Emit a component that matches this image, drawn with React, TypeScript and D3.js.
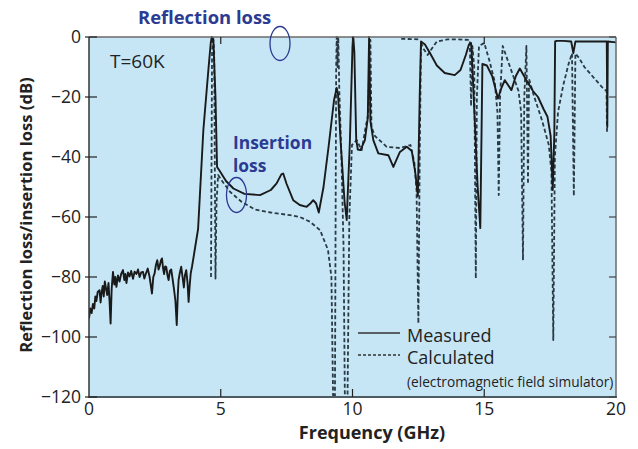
import { useEffect, useRef } from "react";
import * as d3 from "d3";

type Pt = [number, number];

// frequency (GHz), loss (dB)
const measured: Pt[] = [
  [0.0, -93.8], [0.05, -90.5], [0.1, -92], [0.15, -89], [0.2, -90.5], [0.24, -86.5], [0.28, -88],
  [0.33, -85], [0.4, -84.4], [0.44, -88.5], [0.47, -85.8], [0.52, -83], [0.56, -86.5], [0.6, -81.5],
  [0.65, -84], [0.69, -86], [0.74, -82], [0.78, -88], [0.82, -95.5], [0.86, -84], [0.91, -78.3],
  [0.96, -82.5], [1.0, -80], [1.04, -83.3], [1.1, -79.5], [1.16, -81.5], [1.22, -79], [1.29, -77.7],
  [1.34, -81], [1.38, -79], [1.42, -82], [1.48, -78.5], [1.54, -79.8], [1.6, -78], [1.67, -80.6],
  [1.73, -78.2], [1.8, -79], [1.86, -77.5], [1.92, -80], [1.98, -78.5], [2.05, -78.3], [2.1, -80.5],
  [2.17, -78.6], [2.23, -77.2], [2.3, -80], [2.35, -83], [2.39, -85.5], [2.44, -80], [2.49, -78.8],
  [2.54, -76], [2.59, -74.4], [2.64, -77.5], [2.68, -76.4], [2.73, -74.5], [2.77, -73.8], [2.81, -77],
  [2.85, -79], [2.89, -76.5], [2.93, -76.6], [2.98, -79.5], [3.02, -81], [3.07, -78], [3.12, -77.5],
  [3.17, -80.5], [3.23, -84.4], [3.28, -88], [3.33, -96], [3.37, -86], [3.4, -81], [3.45, -78.5],
  [3.5, -76.6], [3.55, -80], [3.6, -83.5], [3.64, -79.5], [3.69, -77.7], [3.74, -82], [3.78, -88.3],
  [3.82, -83], [3.86, -78.8], [3.91, -76.5], [3.95, -74.4], [4.03, -70], [4.14, -64], [4.34, -31],
  [4.53, -11], [4.62, -2], [4.66, 0], [4.72, -1], [4.8, -20], [4.86, -43.3], [4.95, -44.5], [5.2, -48],
  [5.48, -50.5], [5.9, -52.3], [6.49, -52.7], [6.9, -51], [7.12, -48.8], [7.3, -45.8], [7.37, -45.5],
  [7.5, -49], [7.75, -54.4], [8.0, -56], [8.26, -56.6], [8.4, -55.5], [8.51, -54.4], [8.62, -55.5],
  [8.72, -58.5], [8.9, -50], [9.1, -36], [9.3, -21], [9.4, -17], [9.45, -19], [9.55, -35], [9.7, -55],
  [9.78, -61], [9.9, -35], [10.0, -3], [10.03, 0], [10.07, -5], [10.14, -34], [10.2, -37.5],
  [10.3, -37.7], [10.47, -34.4], [10.58, -27], [10.63, 0], [10.68, -28], [10.79, -34.4], [10.98, -38.8],
  [11.36, -39.4], [11.55, -43.3], [11.8, -38.3], [12.06, -36.6], [12.25, -38], [12.38, -45],
  [12.48, -53], [12.55, -20], [12.6, -1.5], [12.75, -2.5], [12.95, -5.5], [13.2, -9.5], [13.5, -12],
  [13.88, -12.7], [14.1, -11], [14.3, -6], [14.42, -2.5], [14.5, -2], [14.55, -10], [14.65, -30],
  [14.75, -50], [14.85, -63.7], [14.9, -30], [14.93, -9], [15.1, -9.5], [15.3, -13], [15.52, -20.5],
  [15.65, -17], [15.78, -14.4], [16.03, -17.7], [16.2, -13], [16.35, -10.5], [16.6, -14.4],
  [16.85, -18], [17.04, -20], [17.25, -24], [17.4, -26.6], [17.52, -33], [17.6, -51], [17.66, -32],
  [17.69, -1.5], [17.75, -1.3], [18.0, -1.3], [18.3, -1.5], [18.38, -5.4], [18.46, -1.5], [18.8, -1.5],
  [19.2, -1.5], [19.6, -1.5], [19.65, -1.5], [19.67, -30], [19.69, -1.5], [20.0, -1.8],
];

const calculated: Pt[] = [
  [4.63, -80], [4.67, -5], [4.71, 0], [4.75, -5], [4.8, -80.5], [4.84, -55], [4.9, -46], [5.05, -48],
  [5.35, -51.6], [5.8, -55], [6.3, -57.5], [6.9, -58.5], [7.63, -59.4], [8.0, -60], [8.39, -61.6],
  [8.77, -64.4], [9.07, -71], [9.2, -80], [9.28, -130], [9.33, -130], [9.38, -10], [9.4, 0],
  [9.43, -10], [9.46, 0], [9.5, -18], [9.58, -40], [9.66, -70], [9.72, -130], [9.8, -130], [9.88, -60],
  [9.98, -36], [10.16, -34.4], [10.35, -37.7], [10.5, -30], [10.6, -25.5], [10.65, -1], [10.68, -1],
  [10.72, -30], [10.85, -33], [11.3, -36.6], [11.8, -37], [12.2, -36], [12.35, -42], [12.43, -51],
  [12.5, -95.5], [12.55, -40], [12.6, -2], [12.7, -4], [12.85, -6], [13.0, -4], [13.2, -1.5],
  [13.6, -0.8], [14.0, -0.8], [14.45, -1], [14.5, -23], [14.55, -3], [14.62, -10], [14.68, -80.5],
  [14.72, -20], [14.8, -3], [15.0, -2], [15.2, -8], [15.4, -15], [15.5, -25], [15.55, -52.7],
  [15.6, -20], [15.7, -3], [15.9, -8], [16.1, -13], [16.3, -18], [16.4, -25], [16.47, -74.4],
  [16.52, -20], [16.6, -3], [16.66, -49], [16.7, -14], [16.9, -20], [17.2, -28], [17.45, -36],
  [17.55, -45], [17.62, -101], [17.68, -40], [17.8, -25], [18.0, -16], [18.2, -9], [18.33, -5.5],
  [18.4, -53], [18.46, -5.5], [18.6, -7], [18.8, -10], [19.2, -14], [19.5, -17], [19.64, -18],
  [19.66, -32],
];

const calculatedTop: Pt[] = [[11.85, -0.6], [12.55, -0.8]];

const xTicks = [0, 5, 10, 15, 20];
const yTicks = [0, -20, -40, -60, -80, -100, -120];

export default function App() {
  const svgRef = useRef<SVGSVGElement>(null);

  useEffect(() => {
    if (!svgRef.current) return;
    const svg = d3.select(svgRef.current);
    svg.selectAll("*").remove();

    const left = 89, right = 616, top = 37, bottom = 397;
    const x = d3.scaleLinear().domain([0, 20]).range([left, right]);
    const y = d3.scaleLinear().domain([-120, 0]).range([bottom, top]);
    const font = "'Open Sans', 'Noto Sans', sans-serif";
    const blue = "#2b3a92";

    svg.append("defs").append("clipPath").attr("id", "plot")
      .append("rect").attr("x", left).attr("y", top - 1)
      .attr("width", right - left).attr("height", bottom - top + 1);

    svg.append("rect").attr("x", left).attr("y", top)
      .attr("width", right - left).attr("height", bottom - top)
      .attr("fill", "#c6e6f6");

    const line = d3.line<Pt>().x((d) => x(d[0])).y((d) => y(d[1]));
    const g = svg.append("g").attr("clip-path", "url(#plot)");

    g.append("path").datum(calculated).attr("d", line)
      .attr("fill", "none").attr("stroke", "#2a3a44").attr("stroke-width", 1.8)
      .attr("stroke-dasharray", "4 2.5").attr("stroke-linejoin", "round");
    g.append("path").datum(calculatedTop).attr("d", line)
      .attr("fill", "none").attr("stroke", "#2a3a44").attr("stroke-width", 1.8)
      .attr("stroke-dasharray", "4 2.5");
    g.append("path").datum(measured).attr("d", line)
      .attr("fill", "none").attr("stroke", "#1a1a1a").attr("stroke-width", 1.9)
      .attr("stroke-linejoin", "round");

    // frame
    svg.append("line").attr("x1", left).attr("x2", right).attr("y1", top).attr("y2", top)
      .attr("stroke", "#6a6a6a").attr("stroke-width", 1.5);
    svg.append("line").attr("x1", right).attr("x2", right).attr("y1", top).attr("y2", bottom)
      .attr("stroke", "#6a6a6a").attr("stroke-width", 1.5);
    svg.append("line").attr("x1", left).attr("x2", left).attr("y1", top).attr("y2", bottom + 1)
      .attr("stroke", "#333").attr("stroke-width", 1.5);
    svg.append("line").attr("x1", left).attr("x2", right + 1).attr("y1", bottom).attr("y2", bottom)
      .attr("stroke", "#4f5b63").attr("stroke-width", 2.2);

    // ticks
    svg.selectAll(".ytick").data(yTicks).enter().append("line")
      .attr("x1", left - 4).attr("x2", left + 8)
      .attr("y1", (d) => y(d)).attr("y2", (d) => y(d))
      .attr("stroke", "#222").attr("stroke-width", 1.2);
    svg.selectAll(".rtick").data(yTicks).enter().append("line")
      .attr("x1", right - 7).attr("x2", right)
      .attr("y1", (d) => y(d)).attr("y2", (d) => y(d))
      .attr("stroke", "#444").attr("stroke-width", 1.2);
    svg.selectAll(".xtick").data(xTicks.slice(1, 4)).enter().append("line")
      .attr("x1", (d) => x(d)).attr("x2", (d) => x(d))
      .attr("y1", bottom - 8).attr("y2", bottom)
      .attr("stroke", "#222").attr("stroke-width", 1.2);
    svg.selectAll(".ttick").data(xTicks.slice(1, 4)).enter().append("line")
      .attr("x1", (d) => x(d)).attr("x2", (d) => x(d))
      .attr("y1", top).attr("y2", top + 7)
      .attr("stroke", "#222").attr("stroke-width", 1.2);

    svg.selectAll(".ylab").data(yTicks).enter().append("text")
      .attr("x", left - 8).attr("y", (d) => y(d) + 6)
      .attr("text-anchor", "end").attr("font-family", font).attr("font-size", 17.5)
      .attr("fill", "#222")
      .text((d) => (d < 0 ? "\u2212" + Math.abs(d) : String(d)));
    svg.selectAll(".xlab").data(xTicks).enter().append("text")
      .attr("x", (d) => x(d)).attr("y", 415)
      .attr("text-anchor", "middle").attr("font-family", font).attr("font-size", 17.5)
      .attr("fill", "#222").text((d) => String(d));

    svg.append("text").attr("x", 372).attr("y", 439).attr("text-anchor", "middle")
      .attr("font-family", font).attr("font-size", 18).attr("font-weight", "bold")
      .attr("fill", "#222").text("Frequency (GHz)");
    svg.append("text").attr("transform", "translate(32,215) rotate(-90)")
      .attr("text-anchor", "middle").attr("font-family", font).attr("font-size", 16.6)
      .attr("font-weight", "bold").attr("fill", "#222")
      .text("Reflection loss/insertion loss (dB)");

    // annotations
    svg.append("text").attr("x", 110).attr("y", 68).attr("font-family", font)
      .attr("font-size", 19).attr("fill", "#222").text("T=60K");
    svg.append("text").attr("x", 138).attr("y", 24).attr("font-family", font)
      .attr("font-size", 18.4).attr("font-weight", "bold").attr("fill", blue)
      .text("Reflection loss");
    svg.append("ellipse").attr("cx", 280).attr("cy", 43.5).attr("rx", 10).attr("ry", 17)
      .attr("fill", "none").attr("stroke", blue).attr("stroke-width", 1.3);
    svg.append("text").attr("x", 233).attr("y", 149).attr("font-family", font)
      .attr("font-size", 17.4).attr("font-weight", "bold").attr("fill", blue).text("Insertion");
    svg.append("text").attr("x", 233).attr("y", 172).attr("font-family", font)
      .attr("font-size", 17.4).attr("font-weight", "bold").attr("fill", blue).text("loss");
    svg.append("ellipse").attr("cx", 236.5).attr("cy", 195).attr("rx", 10).attr("ry", 17.5)
      .attr("fill", "none").attr("stroke", blue).attr("stroke-width", 1.3);

    // legend
    svg.append("line").attr("x1", 358).attr("x2", 400).attr("y1", 333).attr("y2", 333)
      .attr("stroke", "#333").attr("stroke-width", 1.3);
    svg.append("line").attr("x1", 358).attr("x2", 400).attr("y1", 355).attr("y2", 355)
      .attr("stroke", "#333").attr("stroke-width", 1.3).attr("stroke-dasharray", "3 2");
    svg.append("text").attr("x", 407).attr("y", 342).attr("font-family", font)
      .attr("font-size", 18).attr("fill", "#222").text("Measured");
    svg.append("text").attr("x", 407).attr("y", 364).attr("font-family", font)
      .attr("font-size", 18).attr("fill", "#222").text("Calculated");
    svg.append("text").attr("x", 407).attr("y", 387).attr("font-family", font)
      .attr("font-size", 13.7).attr("fill", "#222")
      .text("(electromagnetic field simulator)");
  }, []);

  return (
    <svg ref={svgRef} width={638} height={449}
      style={{ position: "absolute", left: 0, top: 0, background: "#fff" }} />
  );
}
